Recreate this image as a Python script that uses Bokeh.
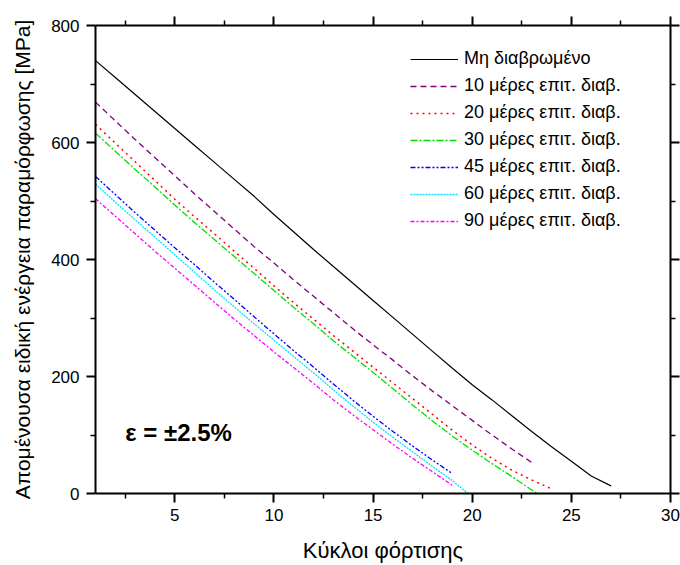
from bokeh.plotting import figure
from bokeh.models import (Range1d, FixedTicker, LinearAxis, Legend, LegendItem, Label,
                          CustomLabelingPolicy)
from bokeh.embed import file_html
from bokeh.resources import INLINE

# ---------------- data ----------------
cycles_black = list(range(1, 28))
y_black = [740, 711, 682, 653, 624, 595, 566, 537, 508, 477, 447, 417, 388, 359,
           330, 301, 272, 243, 214, 186, 160, 133, 106, 80, 55, 30, 13]

cycles_10 = list(range(1, 24))
y_10 = [669, 637, 605, 574, 543, 512, 482, 452, 422, 394, 365, 337, 309, 281,
        254, 228, 201, 175, 150, 125, 100, 76, 53]

cycles_20 = list(range(1, 25))
y_20 = [631, 599, 567, 535, 503, 473, 444, 414, 385, 355, 326, 298, 270, 243,
        216, 189, 162, 135, 108, 83, 60, 40, 23, 8]

cycles_30 = list(range(1, 25))
y_30 = [616, 585, 554, 524, 493, 463, 434, 405, 376, 347, 318, 290, 261, 234,
        207, 179, 151, 124, 98, 74, 51, 29, 6, -16]

cycles_45 = list(range(1, 20))
y_45 = [542, 511, 480, 450, 420, 391, 361, 332, 302, 273, 244, 216, 187, 159,
        132, 106, 81, 57, 34]

cycles_60 = list(range(1, 21))
y_60 = [529, 498, 468, 438, 408, 378, 348, 319, 290, 262, 234, 206, 177, 149,
        122, 96, 71, 46, 22, -6]

cycles_90 = list(range(1, 20))
y_90 = [504, 474, 444, 414, 385, 356, 327, 298, 270, 242, 215, 188, 160, 134,
        109, 84, 60, 37, 14]

series_labels = ["Μη διαβρωμένο", "10 μέρες επιτ. διαβ.", "20 μέρες επιτ. διαβ.",
                 "30 μέρες επιτ. διαβ.", "45 μέρες επιτ. διαβ.", "60 μέρες επιτ. διαβ.",
                 "90 μέρες επιτ. διαβ."]

x_ticks = [5, 10, 15, 20, 25, 30]
x_minor = [2.5, 7.5, 12.5, 17.5, 22.5, 27.5]
y_ticks = [0, 200, 400, 600, 800]
y_minor = [100, 300, 500, 700]

x_title = "Κύκλοι φόρτισης"
y_title = "Απομένουσα ειδική ενέργεια παραμόρφωσης [MPa]"
note = "ε = ±2.5%"

# ---------------- figure ----------------
FONT = "Liberation Sans"

p = figure(width=680, height=565, output_backend="svg", toolbar_location=None,
           x_range=Range1d(1, 30), y_range=Range1d(0, 800),
           min_border_left=95, min_border_right=10, min_border_top=25,
           min_border_bottom=70, x_axis_location=None, y_axis_location=None)
p.outline_line_color = None
p.xgrid.visible = False
p.ygrid.visible = False
p.background_fill_color = "white"

no_labels = CustomLabelingPolicy(code="""
const all = [...indices]
for (const i of all) indices.unset(i)
return indices
""")


def style_axis(ax, show_labels):
    ax.axis_line_width = 2
    ax.axis_line_color = "black"
    ax.major_tick_line_width = 2
    ax.minor_tick_line_width = 1.5
    ax.major_tick_out = 9
    ax.major_tick_in = 0
    ax.minor_tick_out = 5
    ax.minor_tick_in = 0
    ax.major_label_text_font = FONT
    ax.major_label_text_font_size = "17px"
    ax.major_label_text_color = "black"
    ax.axis_label_text_font = FONT
    ax.axis_label_text_font_style = "normal"
    ax.axis_label_text_color = "black"
    if not show_labels:
        ax.major_label_policy = no_labels
        ax.major_label_text_font_size = "0px"
        ax.major_label_standoff = 0
        ax.axis_label_standoff = 0


xb = LinearAxis(ticker=FixedTicker(ticks=x_ticks, minor_ticks=x_minor), axis_label=x_title)
style_axis(xb, True)
xb.major_label_standoff = 6
xb.axis_label_standoff = 14
xb.axis_label_text_font_size = "22px"
p.add_layout(xb, "below")

xt = LinearAxis(ticker=FixedTicker(ticks=x_ticks, minor_ticks=x_minor))
style_axis(xt, False)
p.add_layout(xt, "above")

yl = LinearAxis(ticker=FixedTicker(ticks=y_ticks, minor_ticks=y_minor), axis_label=y_title)
style_axis(yl, True)
yl.major_label_standoff = 7
yl.axis_label_standoff = 14
yl.axis_label_text_font_size = "21px"
p.add_layout(yl, "left")

yr = LinearAxis(ticker=FixedTicker(ticks=y_ticks, minor_ticks=y_minor))
style_axis(yr, False)
p.add_layout(yr, "right")

# ---------------- lines ----------------
specs = [
    (cycles_black, y_black, "black", "solid", 1.2),
    (cycles_10, y_10, "#800080", "6 4", 1.3),
    (cycles_20, y_20, "#ff0000", "2 4", 1.5),
    (cycles_30, y_30, "#00e000", "7 2 2 2", 1.3),
    (cycles_45, y_45, "#0000ff", "5 2 2 2 2 2", 1.3),
    (cycles_60, y_60, "#00e5ff", "2 1", 1.3),
    (cycles_90, y_90, "#ff00ff", "4 2 2 2", 1.3),
]

items = []
for (xs, ys, col, dash, w), lab in zip(specs, series_labels):
    r = p.line(xs, ys, line_color=col, line_dash=dash, line_width=w)
    items.append(LegendItem(label=lab, renderers=[r]))

legend = Legend(items=items, location=(315, 262))
legend.background_fill_alpha = 0
legend.border_line_color = None
legend.padding = 0
legend.margin = 0
legend.spacing = 6
legend.glyph_width = 48
legend.glyph_height = 20
legend.label_height = 20
legend.label_standoff = 6
legend.label_text_font = FONT
legend.label_text_font_size = "18px"
legend.label_text_color = "black"
p.add_layout(legend)

lab = Label(x=2.5, y=105, text=note, text_font=FONT, text_font_size="24px",
            text_font_style="bold", text_baseline="middle", text_color="black")
p.add_layout(lab)

open("out.html", "w").write(file_html(p, INLINE))
